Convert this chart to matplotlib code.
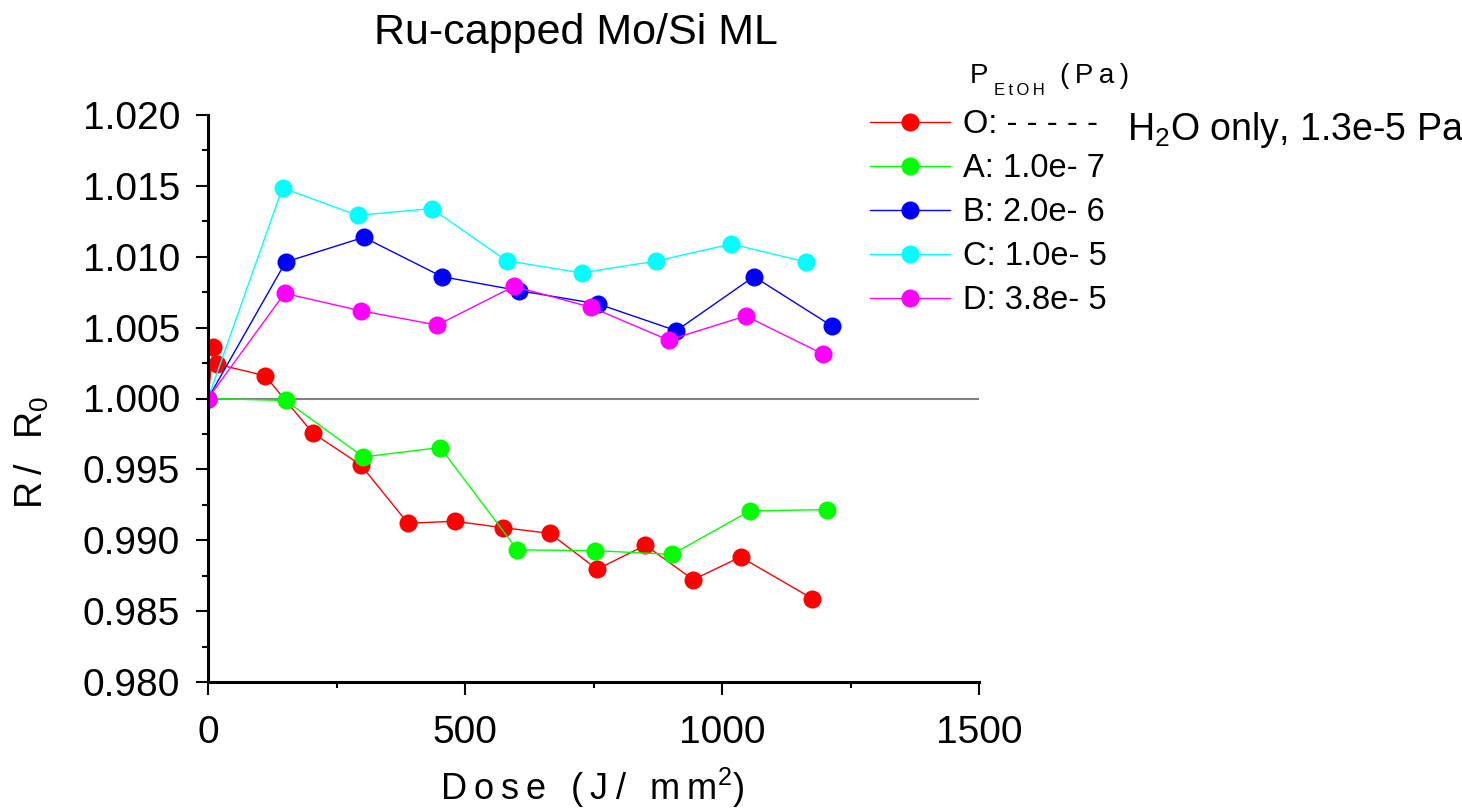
import matplotlib
matplotlib.use('Agg')
import matplotlib.pyplot as plt
from matplotlib.ticker import MultipleLocator, FormatStrFormatter

plt.rcParams['font.family'] = ['Liberation Sans', 'DejaVu Sans']
plt.rcParams['mathtext.fontset'] = 'custom'
plt.rcParams['mathtext.rm'] = 'Liberation Sans'
plt.rcParams['mathtext.it'] = 'Liberation Sans:italic'

# dose (J/mm^2) and normalised reflectance for each run
dose_O = [0, 10, 17, 111, 204, 297, 389, 480, 573, 665, 757, 851, 944, 1036, 1176]
refl_O = [1.0, 1.00365, 1.00243, 1.0016, 0.99756, 0.99532, 0.9912, 0.99134,
          0.99089, 0.99049, 0.98795, 0.98965, 0.98722, 0.98882, 0.98588]

dose_A = [0, 151, 302, 452, 602, 752, 903, 1054, 1204]
refl_A = [1.0, 0.99986, 0.99588, 0.99654, 0.98932, 0.98927, 0.98900, 0.99207, 0.99216]

dose_B = [0, 151, 303, 455, 606, 759, 911, 1062, 1214]
refl_B = [1.0, 1.00963, 1.01137, 1.0086, 1.0076, 1.00667, 1.00478, 1.0086, 1.00511]

dose_C = [0, 145, 291, 435, 581, 727, 872, 1018, 1164]
refl_C = [1.0, 1.01486, 1.01292, 1.0134, 1.00972, 1.00886, 1.0097, 1.0109, 1.00963]

dose_D = [0, 149, 297, 446, 595, 746, 896, 1046, 1197]
refl_D = [1.0, 1.00742, 1.00619, 1.00518, 1.00791, 1.00643, 1.00412, 1.00582, 1.00313]

labels = ['O: - - - - -', 'A: 1.0e- 7', 'B: 2.0e- 6', 'C: 1.0e- 5', 'D: 3.8e- 5']
colors = ['#ff0000', '#00ff00', '#0000ff', '#00ffff', '#ff00ff']

W, H = 1462, 809


def spaced(s):
    # the original labels are drawn with some letter spacing
    return '\u2009'.join(s)


fig = plt.figure(figsize=(W / 100, H / 100), dpi=100)
ax = fig.add_axes([208 / W, 1 - 682 / H, (979 - 208) / W, (682 - 115) / H])

ax.axhline(1.0, color='#808080', lw=1.5, zorder=1.5)

series = [(dose_O, refl_O), (dose_A, refl_A), (dose_B, refl_B),
          (dose_C, refl_C), (dose_D, refl_D)]
handles = []
for (x, y), lab, c in zip(series, labels, colors):
    h, = ax.plot(x, y, '-o', color=c, lw=1.0, ms=13, mew=0, label=lab)
    handles.append(h)

ax.set_xlim(0, 1500)
ax.set_ylim(0.98, 1.02)
ax.xaxis.set_major_locator(MultipleLocator(500))
ax.xaxis.set_minor_locator(MultipleLocator(250))
ax.yaxis.set_major_locator(MultipleLocator(0.005))
ax.yaxis.set_minor_locator(MultipleLocator(0.0025))
ax.yaxis.set_major_formatter(FormatStrFormatter('%.3f'))

for side in ['top', 'right']:
    ax.spines[side].set_visible(False)
for side in ['left', 'bottom']:
    ax.spines[side].set_linewidth(2.2)

ax.tick_params(which='major', direction='out', length=9, width=1.5, labelsize=28)
ax.tick_params(which='minor', direction='out', length=4, width=1.5)
ax.tick_params(axis='x', which='major', pad=15)
ax.tick_params(axis='y', which='major', pad=11)

fig.text(576 / W, 1 - 44 / H, 'Ru-capped Mo/Si ML', fontsize=31,
         ha='center', va='baseline')
fig.text(592 / W, 1 - 800 / H, spaced('Dose (J/ mm') + '$^{2}$)', fontsize=26,
         ha='center', va='baseline')
fig.text(32 / W, 1 - 452 / H, spaced('R/ R') + '$_{0}$', fontsize=27,
         rotation=90, ha='center', va='center')

# legend title and the note for run O
fig.text(970 / W, 1 - 83 / H, 'P', fontsize=20, va='baseline')
fig.text(994 / W, 1 - 95 / H, spaced('EtOH'), fontsize=12, va='baseline')
fig.text(1060 / W, 1 - 83 / H, spaced('(Pa)'), fontsize=20, va='baseline')
fig.text(1127 / W, 1 - 140 / H, 'H$_{2}$O only, 1.3e-5 Pa', fontsize=27,
         va='baseline')

ax.legend(handles=handles, loc='upper left',
          bbox_to_anchor=(870 / W, 1 - 109 / H), bbox_transform=fig.transFigure,
          frameon=False, fontsize=23.5, handlelength=2.45, handletextpad=0.4,
          labelspacing=0.4, borderpad=0, borderaxespad=0)

fig.savefig('out.png', dpi=100)
